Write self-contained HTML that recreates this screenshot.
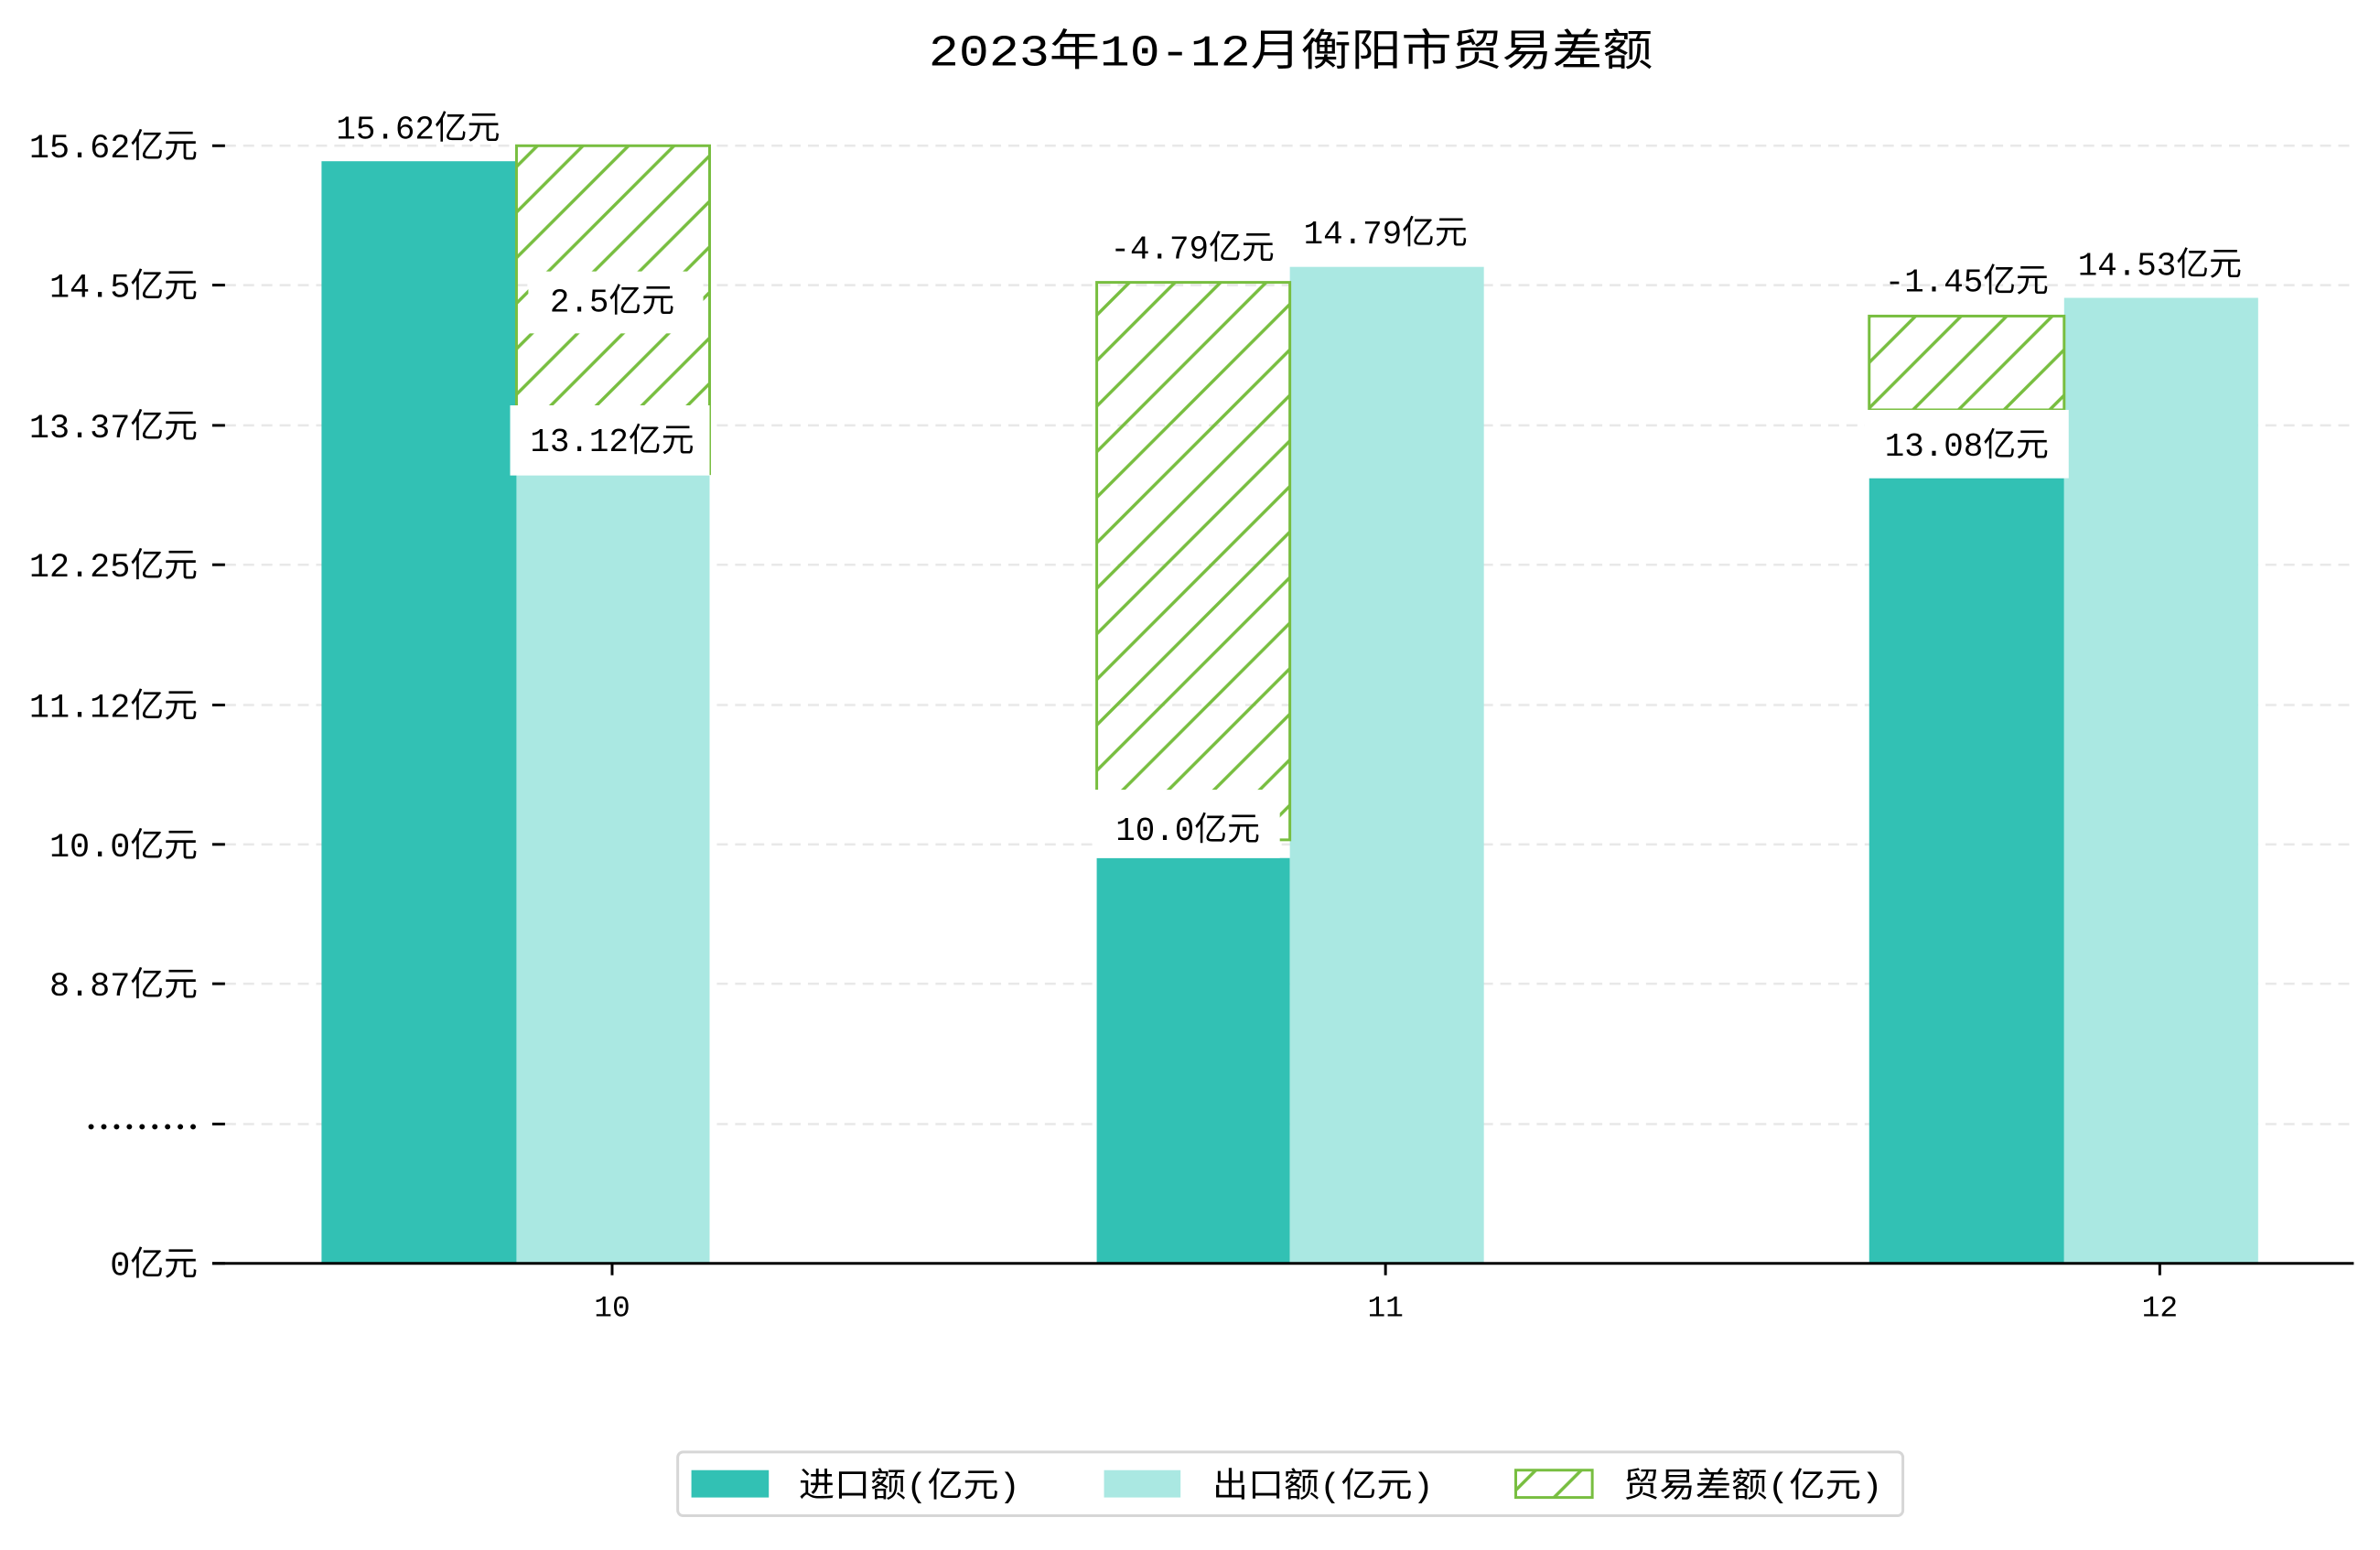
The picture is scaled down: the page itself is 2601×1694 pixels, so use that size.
<!DOCTYPE html>
<html><head><meta charset="utf-8"><style>
html,body{margin:0;padding:0;background:#fff;}
svg text{font-family:"Liberation Mono","WenQuanYi Zen Hei","Noto Sans CJK SC",monospace;fill:#000;}
</style></head><body>
<svg width="2601" height="1689" viewBox="0 0 2601 1689" xmlns="http://www.w3.org/2000/svg">
<defs>
<pattern id="h" patternUnits="userSpaceOnUse" width="50" height="50">
<path d="M-10,60 L60,-10 M-60,60 L10,-10 M40,60 L110,-10" stroke="#78be40" stroke-width="3.5"/>
</pattern>
</defs>
<g transform="scale(0.9955)">
<text x="1417" y="72" font-size="48" text-anchor="middle" textLength="795" lengthAdjust="spacingAndGlyphs">2023年10-12月衡阳市贸易差额</text>
<g stroke="#e8e8e8" stroke-width="2.5" stroke-dasharray="12,8">
<line x1="247" x2="2584" y1="160" y2="160"/><line x1="247" x2="2584" y1="313" y2="313"/>
<line x1="247" x2="2584" y1="467" y2="467"/><line x1="247" x2="2584" y1="620" y2="620"/>
<line x1="247" x2="2584" y1="774" y2="774"/><line x1="247" x2="2584" y1="927" y2="927"/>
<line x1="247" x2="2584" y1="1080" y2="1080"/><line x1="247" x2="2584" y1="1234" y2="1234"/>
</g>
<g stroke="#000" stroke-width="3">
<line x1="233" x2="247" y1="160" y2="160"/><line x1="233" x2="247" y1="313" y2="313"/>
<line x1="233" x2="247" y1="467" y2="467"/><line x1="233" x2="247" y1="620" y2="620"/>
<line x1="233" x2="247" y1="774" y2="774"/><line x1="233" x2="247" y1="927" y2="927"/>
<line x1="233" x2="247" y1="1080" y2="1080"/><line x1="233" x2="247" y1="1234" y2="1234"/>
<line x1="233" x2="247" y1="1387" y2="1387"/>
</g>
<g font-size="37" text-anchor="end">
<text x="217" y="173">15.62亿元</text><text x="217" y="326">14.5亿元</text>
<text x="217" y="480">13.37亿元</text><text x="217" y="633">12.25亿元</text>
<text x="217" y="787">11.12亿元</text><text x="217" y="940">10.0亿元</text>
<text x="217" y="1093">8.87亿元</text>
<text x="217" y="1400">0亿元</text>
</g>
<g fill="#000">
<circle cx="100" cy="1237" r="3"/><circle cx="114" cy="1237" r="3"/><circle cx="128" cy="1237" r="3"/>
<circle cx="142" cy="1237" r="3"/><circle cx="156" cy="1237" r="3"/><circle cx="170" cy="1237" r="3"/>
<circle cx="184" cy="1237" r="3"/><circle cx="198" cy="1237" r="3"/><circle cx="212" cy="1237" r="3"/>
</g>
<rect x="353" y="177" width="214" height="1210" fill="#32c1b4"/>
<rect x="567" y="520" width="212" height="867" fill="#aae8e2"/>
<rect x="567" y="160" width="212" height="360" fill="url(#h)" stroke="#78be40" stroke-width="3"/>
<rect x="1204" y="942" width="212" height="445" fill="#32c1b4"/>
<rect x="1416" y="293" width="213" height="1094" fill="#aae8e2"/>
<rect x="1204" y="310" width="212" height="612" fill="url(#h)" stroke="#78be40" stroke-width="3"/>
<rect x="2052" y="525" width="214" height="862" fill="#32c1b4"/>
<rect x="2266" y="327" width="213" height="1060" fill="#aae8e2"/>
<rect x="2052" y="347" width="214" height="103" fill="url(#h)" stroke="#78be40" stroke-width="3"/>
<rect x="580" y="298" width="192" height="68" fill="#fff"/>
<rect x="560" y="445" width="219" height="77" fill="#fff"/>
<rect x="1202" y="867" width="203" height="75" fill="#fff"/>
<rect x="2047" y="450" width="224" height="75" fill="#fff"/>
<g font-size="36" text-anchor="middle">
<text x="459" y="152">15.62亿元</text>
<text x="672" y="342">2.5亿元</text>
<text x="672" y="495">13.12亿元</text>
<text x="1309" y="284">-4.79亿元</text>
<text x="1521" y="267">14.79亿元</text>
<text x="1304" y="922">10.0亿元</text>
<text x="2159" y="320">-1.45亿元</text>
<text x="2159" y="500">13.08亿元</text>
<text x="2371" y="302">14.53亿元</text>
</g>
<line x1="233" x2="2584" y1="1387" y2="1387" stroke="#000" stroke-width="3"/>
<g stroke="#000" stroke-width="3">
<line x1="672" x2="672" y1="1387" y2="1400"/><line x1="1521" x2="1521" y1="1387" y2="1400"/><line x1="2371" x2="2371" y1="1387" y2="1400"/>
</g>
<g font-size="33" text-anchor="middle">
<text x="672" y="1445">10</text><text x="1521" y="1445">11</text><text x="2371" y="1445">12</text>
</g>
<rect x="744" y="1594" width="1345" height="70" rx="6" fill="#fff" stroke="#d6d6d6" stroke-width="3"/>
<rect x="759" y="1614" width="85" height="30" fill="#32c1b4"/>
<rect x="1212" y="1614" width="84" height="30" fill="#aae8e2"/>
<rect x="1664" y="1614" width="84" height="30" fill="url(#h)" stroke="#78be40" stroke-width="3"/>
<g font-size="37">
<text x="877" y="1643" textLength="243" lengthAdjust="spacingAndGlyphs">进口额(亿元)</text>
<text x="1331" y="1643" textLength="243" lengthAdjust="spacingAndGlyphs">出口额(亿元)</text>
<text x="1782" y="1643" textLength="285" lengthAdjust="spacingAndGlyphs">贸易差额(亿元)</text>
</g>
</g>
</svg>
</body></html>
